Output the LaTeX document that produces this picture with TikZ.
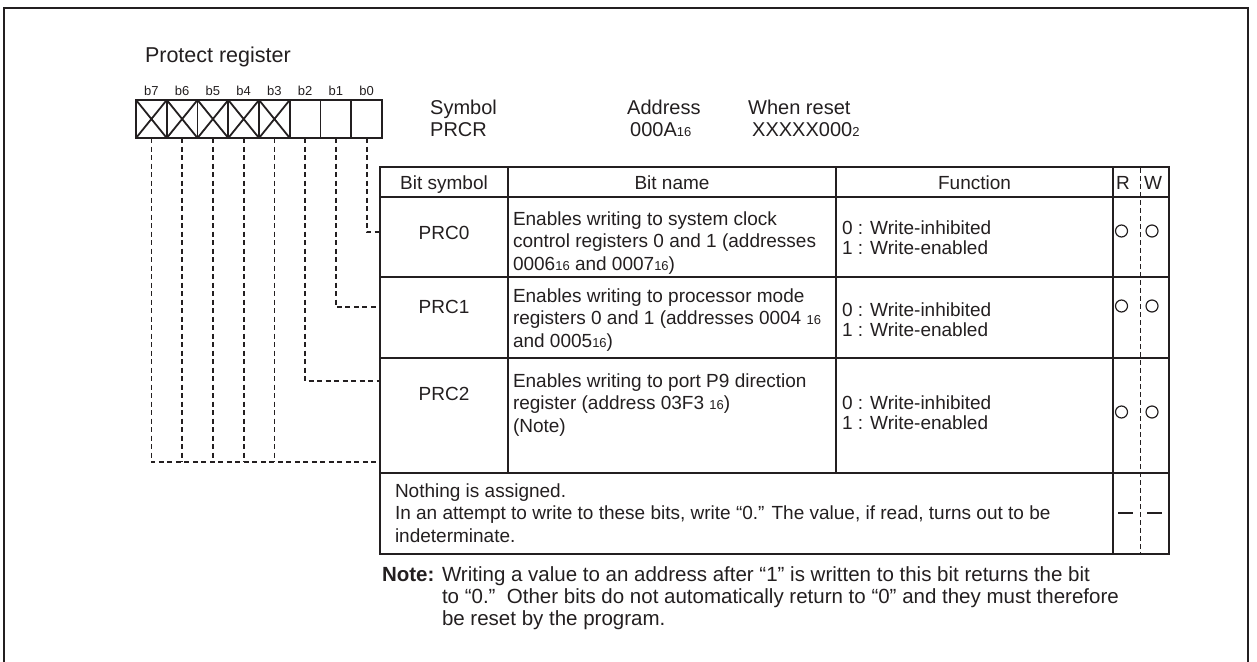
\documentclass[tikz,border=0pt]{standalone}
\usepackage{fontspec}
\setmainfont{Liberation Sans}
\definecolor{ink}{HTML}{231F20}
\newcommand\sxvi[1]{{\fontsize{13}{13}\selectfont #1}}
\begin{document}
\begin{tikzpicture}[x=1pt,y=-1pt,
  frame/.style={draw=ink, line width=1.8pt},
  boxline/.style={draw=ink, line width=1.8pt},
  cell/.style={boxline, minimum width=30.75pt, minimum height=38pt, inner sep=0pt, outer sep=0pt},
  conn/.style={draw=ink, line width=1.8pt, dash pattern=on 5pt off 3.5pt},
  tbl/.style={draw=ink, line width=1.8pt},
  rwsep/.style={draw=ink, line width=1pt, dash pattern=on 5pt off 3pt},
  txt/.style={inner sep=0pt, outer sep=0pt, text=ink, font=\fontsize{19}{22.5}\selectfont},
  ftxt/.style={txt, font=\fontsize{19}{20.5}\selectfont},
  ntxt/.style={txt, font=\fontsize{20.5}{22}\selectfont},
  bitlbl/.style={inner sep=0pt, text=ink, font=\fontsize{13}{13}\selectfont},
  hdr/.style={inner sep=0pt, text=ink, font=\fontsize{20}{23}\selectfont},
  rwmark/.style={draw=ink, line width=1.2pt, circle, minimum size=12pt, inner sep=0pt},
  nomark/.style={draw=ink, line width=1.3pt}
]
\useasboundingbox (0,0) rectangle (1257,661);
% outer frame (bottom edge outside picture)
\draw[frame] (4,670) -- (4,8) -- (1248,8) -- (1248,670);

% title
\node[txt, anchor=base west, font=\fontsize{21.5}{24}\selectfont] (title) at (145,63) {Protect register};

% bit cells
\foreach \i/\b in {0/7,1/6,2/5,3/4,4/3,5/2,6/1,7/0}{
  \node[cell] (c\b) at ({151.4+30.75*\i},119) {};
  \node[bitlbl, anchor=base] (l\b) at ({151.4+30.75*\i},95.5) {b\b};
}
\foreach \b in {7,6,5,4,3}{
  \draw[boxline] (c\b.north west) -- (c\b.south east) (c\b.north east) -- (c\b.south west);
}

% header info
\node[hdr, anchor=base west] (symh) at (430,114) {Symbol};
\node[hdr, anchor=base west] (symv) at (430,136) {PRCR};
\node[hdr, anchor=base west] (addh) at (627,114) {Address};
\node[hdr, anchor=base west] (addv) at (630,136) {000A\sxvi{16}};
\node[hdr, anchor=base west] (rsth) at (748,114) {When reset};
\node[hdr, anchor=base west] (rstv) at (752,136) {XXXXX000\sxvi{2}};

% table
\draw[tbl] (380,167) rectangle (1169,554);
\draw[tbl] (380,197) -- (1169,197);
\draw[tbl] (380,277) -- (1169,277);
\draw[tbl] (380,358) -- (1169,358);
\draw[tbl] (380,473) -- (1169,473);
\draw[tbl] (508,167) -- (508,473);
\draw[tbl] (836,167) -- (836,473);
\draw[tbl] (1113,167) -- (1113,554);
\draw[rwsep] (1140,168) -- (1140,553);

% connector end points
\coordinate (p0) at (380,232);
\coordinate (p1) at (380,307);
\coordinate (p2) at (380,381);
\coordinate (p3) at (380,462);
\draw[conn] (c0.south) |- (p0);
\draw[conn] (c1.south) |- (p1);
\draw[conn] (c2.south) |- (p2);
\draw[conn] (c7.south) |- (p3);
\foreach \b in {6,5,4,3}{
  \draw[conn] (c\b.south) -- (c\b.south |- p3);
}

% header row
\node[txt, anchor=base] (hbs) at (444,189) {Bit symbol};
\node[txt, anchor=base] (hbn) at (672,189) {Bit name};
\node[txt, anchor=base] (hfn) at (974.5,189) {Function};
\node[txt, anchor=base] (hr) at (1123,189) {R};
\node[txt, anchor=base] (hw) at (1153,189) {W};

% (multi-line nodes: base anchor = baseline of last line)
% row PRC0
\node[txt, anchor=base] (s0) at (444,239) {PRC0};
\node[txt, anchor=base west, align=left] (n0) at (513,270) {Enables writing to system clock\\control registers 0 and 1 (addresses\\0006\sxvi{16} and 0007\sxvi{16})};
\node[ftxt, anchor=base west, align=left] (f0) at (842,254.5) {0 : Write-inhibited\\1 : Write-enabled};
\node[rwmark] (r0) at (1121.5,231) {};
\node[rwmark] (w0) at (1152,231) {};

% row PRC1
\node[txt, anchor=base] (s1) at (444,313) {PRC1};
\node[txt, anchor=base west, align=left] (n1) at (513,347) {Enables writing to processor mode\\registers 0 and 1 (addresses 0004 \sxvi{16}\\and 0005\sxvi{16})};
\node[ftxt, anchor=base west, align=left] (f1) at (842,336.5) {0 : Write-inhibited\\1 : Write-enabled};
\node[rwmark] (r1) at (1121.5,306) {};
\node[rwmark] (w1) at (1152,306) {};

% row PRC2
\node[txt, anchor=base] (s2) at (444,400) {PRC2};
\node[txt, anchor=base west, align=left] (n2) at (513,432) {Enables writing to port P9 direction\\register (address 03F3 \sxvi{16})\\(Note)};
\node[ftxt, anchor=base west, align=left] (f2) at (842,429.5) {0 : Write-inhibited\\1 : Write-enabled};
\node[rwmark] (r2) at (1121.5,412) {};
\node[rwmark] (w2) at (1152,412) {};

% row nothing assigned
\node[txt, anchor=base west, align=left] (na) at (395,542) {Nothing is assigned.\\In an attempt to write to these bits, write “0.” The value, if read, turns out to be\\indeterminate.};
\draw[nomark] (1118,513) -- (1133,513);
\draw[nomark] (1147,513) -- (1162,513);

% note
\node[ntxt, anchor=base west, font=\fontsize{20.5}{22}\bfseries] (nl) at (382,581) {Note:};
\node[ntxt, anchor=base west, align=left] (nt) at (442,625) {Writing a value to an address after “1” is written to this bit returns the bit\\to “0.”\ \ Other bits do not automatically return to “0” and they must therefore\\be reset by the program.};
\end{tikzpicture}
\end{document}
